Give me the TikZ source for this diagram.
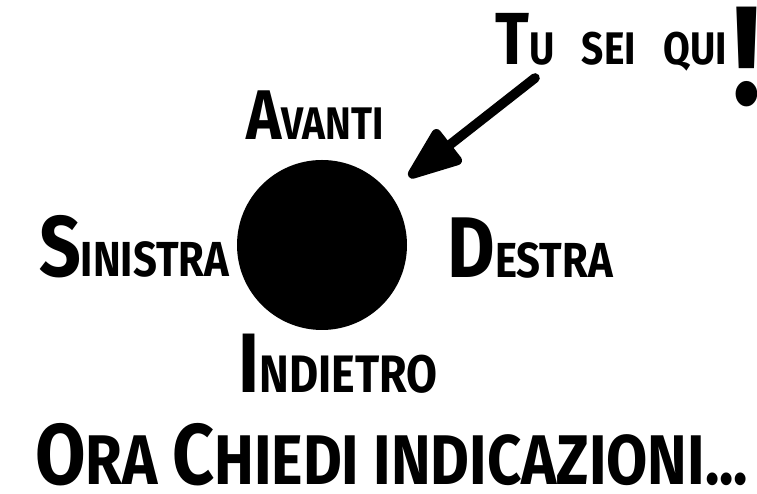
\documentclass[tikz,border=0pt]{standalone}
\usepackage{xcolor}
\usepackage{fontspec}
\usepackage{tikz}
\usetikzlibrary{arrows.meta, positioning}

\newfontfamily\handfont{Fira Sans}[FakeStretch=0.85]
\newcommand{\capword}[4]{{\fontsize{#1}{#1}\selectfont #2}{\fontsize{#3}{#3}\selectfont #4}}

\begin{document}
\begin{tikzpicture}[
    node distance=0.4cm,
    word/.style={
        inner sep=0pt,
        text=ink,
        font=\handfont\bfseries
    },
    dotnode/.style={
        circle,
        fill=ink,
        minimum size=3.4cm,
        inner sep=0pt
    },
    pointer/.style={-{Triangle[round, length=1.25cm, width=0.9cm]}, line width=5.5pt, line cap=round, draw=ink}
]

% Colors
\definecolor{ink}{RGB}{0,0,0}

\useasboundingbox (0,0) rectangle (15.14,9.88);

% Centre
\node[dotnode] (dot) at (6.44,4.98) {};

% Directions
\node[word, above=0.4cm of dot, xshift=-0.14cm] (avanti) {\capword{40}{A}{26}{VANTI}};

\node[word, left=0.14cm of dot, yshift=-0.04cm] (sinistra) {\capword{49}{S}{28}{INISTRA}};

\node[word, right=0.8cm of dot, yshift=-0.06cm] (destra) {\capword{49}{D}{28}{ESTRA}};

\node[word, below=0.06cm of dot, xshift=0.32cm] (indietro) {\capword{48}{I}{30}{NDIETRO}};

% You are here
\node[word, anchor=base west] (tusei) at (9.9,8.58) {\capword{42}{T}{26}{U\hspace{0.6em}SEI\hspace{0.6em}QUI}\hspace{0.35em}\raisebox{-0.8cm}{\fontsize{80}{80}\selectfont !}};

% Bottom line
\node[word, anchor=base west] (chiedi) at (0.7,0.18) {\capword{49}{O}{40}{RA }\capword{49}{C}{40}{HIEDI INDICAZIONI...}};

% Arrow
\coordinate (tail) at (10.7,8.32);

\draw[pointer, shorten >=0.5cm] (tail) -- (dot);

\end{tikzpicture}
\end{document}
